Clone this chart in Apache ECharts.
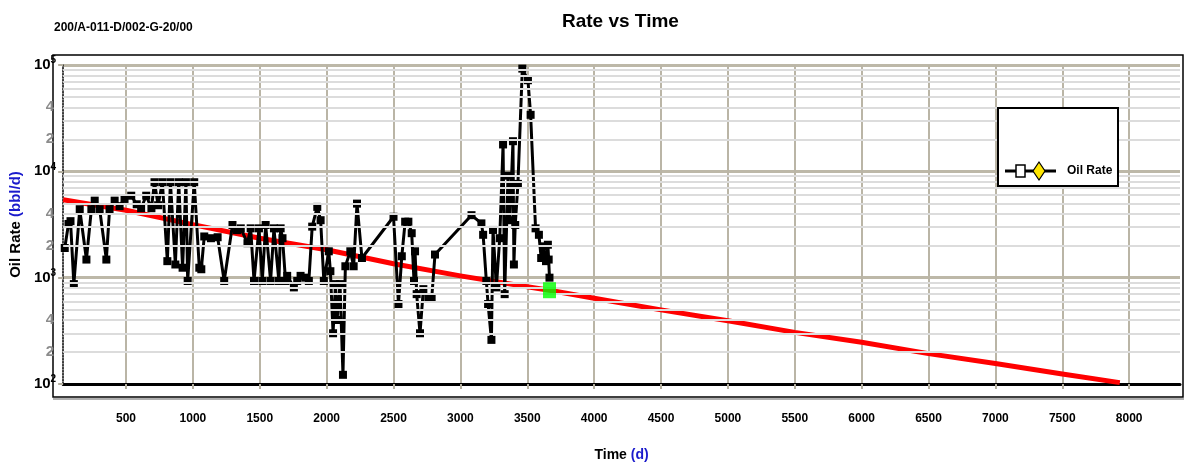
<!DOCTYPE html>
<html lang="en">
<head>
  <meta charset="UTF-8">
  <title>Rate vs Time</title>
  <script src="https://cdn.jsdelivr.net/npm/echarts@6/dist/echarts.min.js"></script>
  <style>
    html, body { margin: 0; padding: 0; background: #fff; }
    #chart { width: 1187px; height: 467px; }
  </style>
</head>
<body>
  <div id="chart"></div>

  <script>
    var FONT = '"Liberation Sans Narrow", "Liberation Sans", Arial, sans-serif';

    // measured oil rate (day, bbl/d)
    var oilDays = [42, 70, 85, 110, 154, 204, 241, 266, 303, 353, 377, 415, 452, 489, 539, 580, 613, 651, 690,
      713, 740, 772, 809, 832, 869, 894, 923, 948, 961, 1010, 1048, 1063, 1085, 1135, 1185, 1234, 1296, 1330,
      1358, 1408, 1432, 1457, 1494, 1519, 1544, 1581, 1606, 1643, 1656, 1670, 1693, 1705, 1755, 1780, 1805,
      1840, 1867, 1892, 1930, 1955, 1979, 2016, 2028, 2048, 2066, 2078, 2100, 2122, 2140, 2177, 2202, 2227,
      2264, 2500, 2537, 2562, 2587, 2611, 2636, 2653, 2661, 2673, 2698, 2723, 2760, 2785, 2810, 3083, 3157,
      3170, 3194, 3207, 3232, 3244, 3269, 3294, 3319, 3331, 3356, 3370, 3393, 3400, 3410, 3430, 3463, 3505,
      3525, 3562, 3587, 3604, 3620, 3640, 3654, 3660, 3666];
    var oilRates = [1900, 3200, 3400, 870, 4400, 1480, 4400, 5300, 4400, 1480, 4400, 5300, 4700, 5500, 5900, 4900, 4500, 5900, 4500,
      7900, 4800, 7900, 1430, 7900, 1330, 7900, 1240, 7900, 930, 7900, 1240, 1200, 2440, 2350, 2400, 930, 3130, 2800,
      2910, 2110, 2910, 930, 2910, 930, 3130, 930, 2910, 930, 2910, 2350, 930, 1040, 810, 930, 1040,
      1000, 930, 3020, 4630, 3470, 930, 1770, 1150, 300, 870, 400, 870, 122, 1280, 1770, 1280, 4970,
      1530, 3740, 565, 1590, 3360, 3360, 2620, 930, 1770, 700, 300, 780, 630, 630, 1650, 3870, 3240,
      2530, 930, 565, 260, 2810, 810, 2350, 17900, 700, 9100, 3470, 19200, 1330, 3130, 7620, 92500, 71900,
      34000, 2910, 2530, 1530, 1970, 1430, 2040, 1480, 1000];

    // decline forecast
    var fcDays = [30, 500, 1000, 1500, 2000, 2500, 3000, 3500, 3666, 4000, 4500, 5000, 5500, 6000, 6500, 7000, 7500, 7930];
    var fcRates = [5400, 4300, 3150, 2350, 1830, 1350, 1040, 820, 762, 640, 498, 393, 306, 247, 193, 156, 124, 103];
    var fcStart = [3666, 762];

    var xTicks = [500, 1000, 1500, 2000, 2500, 3000, 3500, 4000, 4500, 5000, 5500, 6000, 6500, 7000, 7500, 8000];
    var minorRates = [200, 300, 400, 500, 600, 700, 800, 900,
      2000, 3000, 4000, 5000, 6000, 7000, 8000, 9000,
      20000, 30000, 40000, 50000, 60000, 70000, 80000, 90000];
    var minorLabels = [2, 4];

    var oilData = oilDays.map(function (d, i) { return [d, oilRates[i]]; });
    var fcData = fcDays.map(function (d, i) { return [d, fcRates[i]]; });

    var chart = echarts.init(document.getElementById('chart'));

    var minorLines = minorRates.map(function (v) {
      var lead = Math.round(v / Math.pow(10, Math.floor(Math.log10(v) + 1e-9)));
      var item = { yAxis: v };
      if (minorLabels.indexOf(lead) >= 0) {
        item.label = {
          show: true, position: 'start', formatter: String(lead), distance: 9,
          color: '#8c8c8c', fontSize: 15, fontWeight: 'bold', fontFamily: FONT
        };
      }
      return item;
    });

    chart.setOption({
      animation: false,
      backgroundColor: '#fff',
      title: [
        { text: 'Rate vs Time', left: 562, top: 12, padding: 0,
          textStyle: { fontSize: 19, fontWeight: 'bold', color: '#000', fontFamily: FONT } },
        { text: '200/A-011-D/002-G-20/00', left: 54, top: 22, padding: 0,
          textStyle: { fontSize: 12, fontWeight: 'bold', color: '#000', fontFamily: FONT } }
      ],
      grid: { left: 58, right: 7, top: 65, bottom: 79 },
      xAxis: {
        type: 'value', min: 30, max: 8380,
        name: '{a|Time }{b|(d)}', nameLocation: 'middle', nameGap: 64,
        nameTextStyle: {
          rich: {
            a: { fontSize: 14, fontWeight: 'bold', color: '#000', fontFamily: FONT },
            b: { fontSize: 14, fontWeight: 'bold', color: '#1a1acc', fontFamily: FONT }
          }
        },
        axisLine: { show: true, onZero: false, lineStyle: { color: '#000', width: 3 } },
        axisTick: { show: true, customValues: xTicks, length: 5, lineStyle: { color: '#b5b0a0', width: 2 } },
        axisLabel: {
          customValues: xTicks, margin: 29, color: '#000', fontSize: 12, fontWeight: 'bold', fontFamily: FONT,
          formatter: function (v) { return String(v); }
        },
        splitLine: { show: true, lineStyle: { color: '#bab5a6', width: 2 } }
      },
      yAxis: {
        type: 'log', logBase: 10, min: 100, max: 100000,
        name: '{a|Oil Rate }{b|(bbl/d)}', nameLocation: 'middle', nameGap: 37,
        nameTextStyle: {
          rich: {
            a: { fontSize: 15, fontWeight: 'bold', color: '#000', fontFamily: FONT },
            b: { fontSize: 15, fontWeight: 'bold', color: '#1a1acc', fontFamily: FONT }
          }
        },
        axisLine: { show: true, lineStyle: { color: '#000', width: 1.5, type: 'dotted' } },
        axisTick: { show: true, length: 5, lineStyle: { color: '#b5b0a0', width: 2 } },
        axisLabel: {
          margin: 7,
          formatter: function (v) { return '{b|10}{s|' + Math.round(Math.log10(v)) + '}'; },
          rich: {
            b: { fontSize: 15, fontWeight: 'bold', color: '#000', fontFamily: FONT },
            s: { fontSize: 10, fontWeight: 'bold', color: '#000', fontFamily: FONT, padding: [0, 0, 9, 0] }
          }
        },
        splitLine: { show: true, lineStyle: { color: '#bdb8a8', width: 3 } }
      },
      graphic: [
        { type: 'rect', z: -1, silent: true, shape: { x: 53, y: 55, width: 1130, height: 342 },
          style: { fill: 'none', stroke: '#000', lineWidth: 1.5 } },
        { type: 'line', silent: true, shape: { x1: 53, y1: 399, x2: 1184, y2: 399 },
          style: { stroke: '#b0b0b0', lineWidth: 2 } },
        { type: 'rect', silent: true, z: 100, shape: { x: 998, y: 108, width: 120, height: 78 },
          style: { fill: '#fff', stroke: '#000', lineWidth: 2 } },
        { type: 'line', silent: true, z: 101, shape: { x1: 1005, y1: 171, x2: 1056, y2: 171 },
          style: { stroke: '#000', lineWidth: 3 } },
        { type: 'rect', silent: true, z: 102, shape: { x: 1016, y: 165, width: 9, height: 12 },
          style: { fill: '#fff', stroke: '#000', lineWidth: 1.5 } },
        { type: 'polygon', silent: true, z: 102, shape: { points: [[1039, 162], [1045, 171], [1039, 180], [1033, 171]] },
          style: { fill: '#ffe600', stroke: '#000', lineWidth: 1.2 } },
        { type: 'text', silent: true, z: 102, x: 1067, y: 171,
          style: { text: 'Oil Rate', fill: '#000', fontSize: 12, fontWeight: 'bold', fontFamily: FONT, verticalAlign: 'middle' } }
      ],
      series: [
        {
          name: 'grid', type: 'line', data: [], z: 1, silent: true,
          markLine: {
            silent: true, symbol: ['none', 'none'], animation: false,
            lineStyle: { color: '#dcdcdc', width: 2, type: 'solid' },
            label: { show: false },
            data: minorLines
          }
        },
        {
          name: 'Forecast', type: 'line', data: fcData, z: 3, showSymbol: false,
          lineStyle: { color: '#ff0000', width: 5, join: 'round' }, itemStyle: { color: '#ff0000' }
        },
        {
          name: 'Oil Rate', type: 'line', data: oilData, z: 4,
          symbol: 'rect', symbolSize: 8,
          lineStyle: { color: '#000', width: 3, join: 'round', cap: 'round' }, itemStyle: { color: '#000' }
        },
        {
          name: 'Start', type: 'scatter', data: [fcStart], z: 5,
          symbol: 'rect', symbolSize: [13, 16], itemStyle: { color: '#00ff00' }
        }
      ]
    });
  </script>
</body>
</html>
